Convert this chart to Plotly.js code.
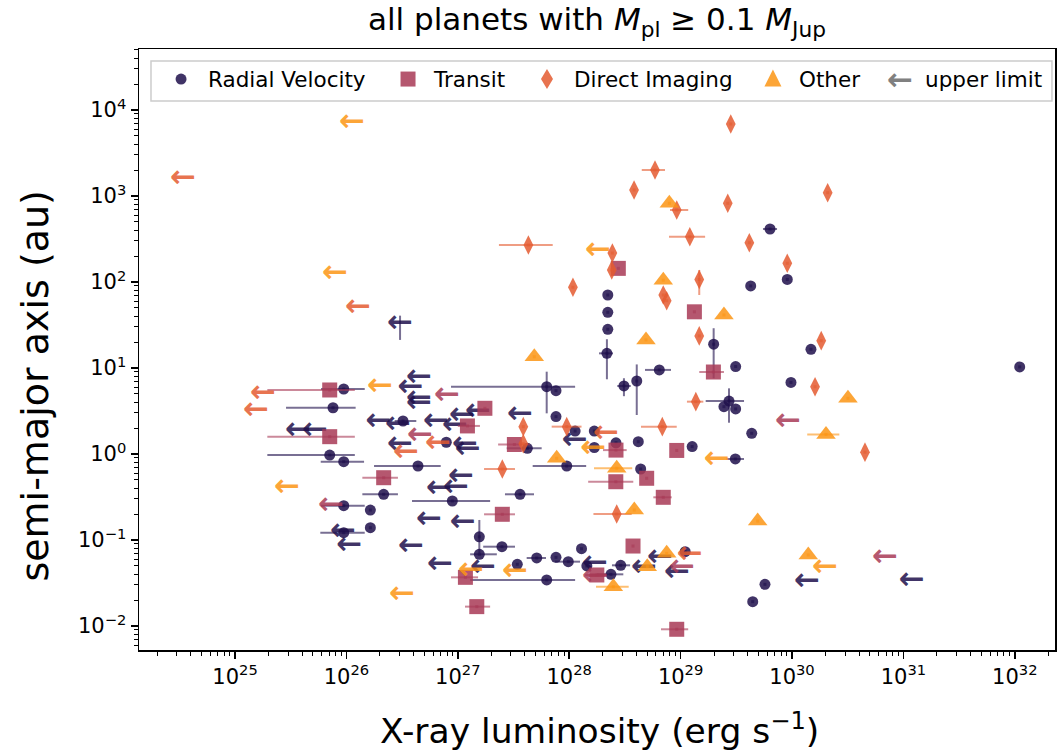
<!DOCTYPE html>
<html>
<head>
<meta charset="utf-8">
<script src="https://cdn.plot.ly/plotly-3.0.1.min.js"></script>
<style>
  html, body { margin: 0; padding: 0; background: #ffffff; }
  #chart { width: 1057px; height: 752px; }
</style>
</head>
<body>
<div id="chart"></div>
<script>
// ---- Radial Velocity detections: X-ray luminosity (erg/s), semi-major axis (au), optional error bounds ----
const rvLx = [6.35e29, 4.26e29, 9.07e29, 1.48e30, 1.107e32, 9.79e29, 2.22e28, 2.22e28, 2.22e28, 2.18e28,
              1.98e29, 6.44e28, 3.12e29, 6.28e27, 7.61e27, 4.04e28, 3.10e28, 2.72e29, 2.45e29, 3.12e29,
              9.46e25, 7.58e25, 3.22e26, 7.88e26, 7.08e25, 9.46e25, 4.39e26, 2.16e26, 8.93e26, 9.46e25,
              1.64e26, 1.64e26, 9.46e25, 1.56e27, 1.56e27, 2.49e27, 3.62e27, 4.21e27, 9.50e27, 1.68e28,
              1.13e28, 7.61e27, 2.63e28, 4.17e28, 1.27e29, 1.68e28, 4.35e29, 4.38e28, 3.10e29, 1.29e28,
              1.10e29, 5.11e27, 7.61e27, 9.81e27, 3.42e27, 1.44e28, 2.90e28, 2.37e28, 6.28e27, 5.72e29, 4.44e29];
const rvA  = [413, 90, 107, 16.5, 10.3, 6.8, 70.6, 44.4, 28.2, 14.8,
              18.9, 9.5, 10.4, 6.06, 5.45, 7.06, 6.18, 4.13, 3.55, 3.34,
              5.7, 3.45, 2.42, 1.37, 0.973, 0.814, 0.725, 0.340, 0.284, 0.2506,
              0.223, 0.139, 0.1216, 0.109, 0.0682, 0.0836, 0.340, 1.165, 0.725, 1.85,
              1.85, 2.72, 1.35, 1.39, 1.22, 1.19, 1.74, 0.669, 0.875, 0.0792,
              0.0731, 0.0618, 0.0629, 0.056, 0.0522, 0.0499, 0.0508, 0.0399, 0.0343, 0.0305, 0.0192];
const rvLxLo = [5.49e29, null, null, null, null, null, null, null, null, 1.85e28,
                null, 4.79e28, null, 8.69e26, null, null, 2.70e28, 1.68e29, null, null,
                5.92e25, 2.87e25, 2.71e26, null, 1.95e25, 5.88e25, 1.77e26, 1.39e26, 3.88e26, 5.92e25,
                null, null, 5.83e25, null, 1.29e27, 1.69e27, 2.65e27, 2.75e27, 4.70e27, null,
                null, null, null, null, null, null, null, null, 2.59e29, null,
                null, 4.15e27, null, 7.46e27, null, null, 2.42e28, 1.77e28, 1.29e27, null, null];
const rvLxHi = [7.34e29, null, null, null, null, null, null, null, null, 2.47e28,
                null, 8.20e28, null, 1.13e28, null, null, 3.57e28, 3.71e29, null, null,
                1.46e26, 1.21e26, 4.24e26, null, 1.19e26, 1.44e26, 7.02e26, 2.90e26, 1.95e27, 1.46e26,
                null, null, 1.46e26, null, 2.24e27, 3.26e27, 4.83e27, 5.66e27, 1.42e28, null,
                null, null, null, null, null, null, null, null, 3.71e29, null,
                null, 6.19e27, null, 1.25e28, null, null, 3.52e28, 3.06e28, 1.13e28, null, null];
const rvALo = [null, null, null, null, null, null, null, null, null, 7.39,
               7.59, null, null, 2.97, null, 2.84, 4.7, 2.31, null, null,
               null, null, null, null, null, null, null, null, null, null,
               null, null, null, 0.0706, null, null, null, null, null, null];
const rvAHi = [null, null, null, null, null, null, null, null, null, 21.6,
               29, null, null, 9.06, null, 11.0, 7.6, 5.8, null, null,
               null, null, null, null, null, null, null, null, null, null,
               null, null, null, 0.171, null, null, null, null, null, null];

// ---- Transit detections ----
const trLx = [2.76e28, 1.33e29, 1.97e29, 7.08e25, 7.08e25, 1.22e27, 1.75e27, 3.22e27, 2.63e28, 9.23e28,
              2.16e26, 2.62e28, 4.96e28, 6.99e28, 2.51e27, 3.74e28, 1.77e28, 1.17e27, 1.48e27, 9.23e28];
const trA  = [144, 45, 8.98, 5.55, 1.59, 2.12, 3.4, 1.29, 1.11, 1.10,
              0.530, 0.476, 0.522, 0.3136, 0.199, 0.0851, 0.0392, 0.0368, 0.0168, 0.00916];
const trLxLo = [null, null, 1.47e29, 1.95e25, 1.95e25, 1.00e27, null, 2.30e27, 2.01e28, null,
                1.39e26, 1.48e28, null, 5.69e28, 1.72e27, null, 1.39e28, 8.69e26, 1.16e27, 6.67e28];
const trLxHi = [null, null, 2.45e29, 1.19e26, 1.19e26, 1.58e27, null, 4.45e27, 3.28e28, null,
                2.90e26, 3.76e28, null, 8.32e28, 3.26e27, null, 2.18e28, 1.52e27, 1.95e27, 1.17e29];

// ---- Direct Imaging detections ----
const diLx = [2.82e29, 5.89e28, 3.82e28, 9.23e28, 2.65e29, 1.21e29, 4.14e29, 2.09e30, 4.30e27, 2.44e28,
              2.41e28, 1.08e28, 6.99e28, 7.50e28, 1.47e29, 1.47e29, 9.07e29, 1.83e30, 1.61e30, 4.52e30,
              1.37e29, 3.87e27, 9.50e27, 6.85e28, 3.87e27, 2.51e27, 2.67e28];
const diA  = [6870, 2005, 1175, 687, 822, 336, 286, 1092, 269, 217,
              138, 86.8, 70.6, 60.6, 107, 23.6, 165, 20.8, 6.06, 1.05,
              4.06, 2.08, 2.08, 2.08, 1.32, 0.669, 0.2006];
const diLxLo = [null, 4.48e28, null, 8.03e28, null, 7.87e28, null, null, 2.34e27, null,
                null, null, null, null, null, null, null, null, null, null,
                1.14e29, null, 6.96e27, 4.41e28, null, 1.72e27, 1.65e28];
const diLxHi = [null, 7.24e28, null, 1.17e29, null, 1.66e29, null, null, 7.11e27, null,
                null, null, null, null, null, null, null, null, null, null,
                1.60e29, null, 1.29e28, 9.23e28, null, 3.26e27, 3.64e28];
const diALo = [null, null, null, null, null, null, null, null, null, null,
               null, null, null, null, 70.6];
const diAHi = [null, null, null, null, null, null, null, null, null, null,
               null, null, null, null, 138];

// ---- Other detection methods ----
const otLx = [7.92e28, 6.99e28, 2.45e29, 4.89e28, 4.86e27, 3.18e30, 2.02e30, 7.72e27, 2.67e28, 3.84e28,
              4.92e29, 7.50e28, 5.02e28, 2.49e28, 1.40e30];
const otA  = [822, 105, 41.3, 21.2, 13.5, 4.44, 1.69, 0.891, 0.682, 0.223,
              0.166, 0.070, 0.049, 0.0286, 0.067];
const otLxLo = [null, null, null, null, null, null, 1.37e30, null, 1.67e28, null,
                null, null, null, 1.74e28, null];
const otLxHi = [null, null, null, null, null, null, 2.66e30, null, 3.68e28, null,
                null, null, null, 3.42e28, null];

// ---- X-ray upper limits (drawn as left arrows), per detection method ----
const ulRvLx = [3.03e26, 4.48e26, 3.76e26, 4.48e26, 4.48e26, 1.94e26, 2.90e26, 6.37e26, 9.44e26, 1.09e27,
                1.52e27, 3.68e25, 5.23e25, 3.03e26, 1.16e27, 1.23e27, 3.62e27, 1.12e28, 1.07e27, 6.78e26,
                9.63e26, 5.51e26, 1.11e27, 9.32e25, 1.06e26, 3.80e26, 6.92e26, 1.68e27, 1.70e28, 6.53e28,
                4.69e28, 9.28e28, 1.36e30, 1.19e31];
const ulRvA  = [32.5, 7.65, 5.81, 4.36, 3.81, 2.31, 2.17, 2.31, 2.12, 2.72,
                3.02, 1.85, 1.85, 1.27, 1.27, 1.11, 2.79, 1.42, 0.530, 0.389,
                0.399, 0.171, 0.156, 0.1216, 0.0851, 0.0813, 0.0512, 0.0472, 0.0522, 0.0606,
                0.0464, 0.041, 0.0325, 0.0334];
const ulRvALo = [21.2];
const ulRvAHi = [40.6];

const ulTrLx = [8.00e26, 7.27e25, 4.58e26, 9.21e29, 1.70e28, 1.03e29, 6.83e30];
const ulTrA  = [4.73, 0.244, 1.59, 2.31, 0.0368, 0.0464, 0.0612];

const ulDiLx = [3.41e24, 1.27e26, 1.78e25, 1.54e25, 3.43e26, 6.64e26, 2.14e28, 1.21e29];
const ulDiA  = [1577, 49.9, 4.94, 3.16, 1.02, 1.31, 1.69, 0.0664];

const ulOtLx = [1.12e26, 7.90e25, 2.00e26, 1.81e28, 2.93e25, 3.16e26, 1.31e27, 1.64e28, 3.26e27, 2.11e29, 1.98e30];
const ulOtA  = [7060, 124, 5.9, 225, 0.399, 0.0229, 0.0436, 1.13, 0.0421, 0.836, 0.0469];

// ---- axis ticks and legend labels ----
const xTickExp = [25, 26, 27, 28, 29, 30, 31, 32];
const yTickExp = [-2, -1, 0, 1, 2, 3, 4];
const legendLabels = ['Radial Velocity', 'Transit', 'Direct Imaging', 'Other', 'upper limit'];

// ---- styling ----
const COL = {
  rv: [30, 15, 75],
  tr: [168, 58, 86],
  di: [228, 91, 48],
  ot: [252, 149, 20],
  ul: [128, 128, 128]
};
const FONT = 'DejaVu Sans, Liberation Sans, sans-serif';
const ARROW_SIZE = 31;
const rgba = (c, a) => `rgba(${c[0]},${c[1]},${c[2]},${a})`;

function errorSpec(vals, lo, hi, col) {
  const plus = vals.map((v, i) => (hi && hi[i] != null) ? hi[i] - v : 0);
  const minus = vals.map((v, i) => (lo && lo[i] != null) ? v - lo[i] : 0);
  return {
    type: 'data', symmetric: false, array: plus, arrayminus: minus,
    color: rgba(col, 0.6), thickness: 2, width: 0,
    visible: plus.some(p => p > 0) || minus.some(m => m > 0)
  };
}

function pointTraces(x, y, xlo, xhi, ylo, yhi, col, symbol, size) {
  return [
    {
      type: 'scatter', mode: 'markers', x: x, y: y,
      marker: { symbol: symbol, size: size, color: rgba(col, 1), opacity: 0.85, line: { width: 0 } },
      error_x: errorSpec(x, xlo, xhi, col),
      error_y: errorSpec(y, ylo, yhi, col),
      hoverinfo: 'skip', showlegend: false
    },
    {
      type: 'scatter', mode: 'markers', x: x, y: y,
      marker: { symbol: 'square', size: 3, color: rgba(col, 0.6), line: { width: 0 } },
      hoverinfo: 'skip', showlegend: false
    }
  ];
}

function arrowTrace(x, y, ylo, yhi, col) {
  return {
    type: 'scatter', mode: 'text', x: x, y: y,
    text: x.map(() => '\u2190'),
    textposition: 'middle center',
    textfont: { family: FONT, size: ARROW_SIZE, weight: 'bold', color: rgba(col, 0.85) },
    error_y: errorSpec(y, ylo, yhi, col),
    hoverinfo: 'skip', showlegend: false
  };
}

const data = [].concat(
  pointTraces(rvLx, rvA, rvLxLo, rvLxHi, rvALo, rvAHi, COL.rv, 'circle', 11),
  [arrowTrace(ulRvLx, ulRvA, ulRvALo, ulRvAHi, COL.rv)],
  pointTraces(trLx, trA, trLxLo, trLxHi, null, null, COL.tr, 'square', 15),
  [arrowTrace(ulTrLx, ulTrA, null, null, COL.tr)],
  pointTraces(diLx, diA, diLxLo, diLxHi, diALo, diAHi, COL.di, 'diamond-tall', 14),
  [arrowTrace(ulDiLx, ulDiA, null, null, COL.di)],
  pointTraces(otLx, otA, otLxLo, otLxHi, null, null, COL.ot, 'triangle-up', 17),
  [arrowTrace(ulOtLx, ulOtA, null, null, COL.ot)]
);

// minor ticks at 2..9 x 10^n
function minorVals(lo, hi) {
  const v = [];
  for (let e = lo; e <= hi; e++) for (let k = 2; k <= 9; k++) v.push(k * Math.pow(10, e));
  return v;
}
const expLabel = e => '10<sup>' + (e < 0 ? '\u2212' + (-e) : e) + '</sup>';

const axisCommon = {
  type: 'log', showline: true, mirror: true, linecolor: 'black', linewidth: 1.5,
  ticks: 'outside', ticklen: 7, tickwidth: 1.5, tickcolor: 'black',
  showgrid: false, zeroline: false, tickmode: 'array',
  tickfont: { family: FONT, size: 21, color: 'black' }
};

// legend glyph geometry (paper coordinates of the plot area)
const legY = 0.950;
const legSymX = [0.0459, 0.2937, 0.4454, 0.6921, 0.8308];
const legTextX = [0.0731, 0.3188, 0.4727, 0.7183, 0.8559];

const shapes = [
  { type: 'rect', xref: 'paper', yref: 'paper', x0: 0.0131, x1: 0.9967, y0: 0.9135, y1: 0.980,
    line: { color: '#cccccc', width: 1.5 }, fillcolor: 'rgba(255,255,255,0.8)', layer: 'above' },
  { type: 'circle', xref: 'paper', yref: 'paper', xsizemode: 'pixel', ysizemode: 'pixel',
    xanchor: legSymX[0], yanchor: legY, x0: -5.5, x1: 5.5, y0: -5.5, y1: 5.5,
    fillcolor: rgba(COL.rv, 0.85), line: { width: 0 }, layer: 'above' },
  { type: 'rect', xref: 'paper', yref: 'paper', xsizemode: 'pixel', ysizemode: 'pixel',
    xanchor: legSymX[1], yanchor: legY, x0: -7.5, x1: 7.5, y0: -7.5, y1: 7.5,
    fillcolor: rgba(COL.tr, 0.85), line: { width: 0 }, layer: 'above' },
  { type: 'path', xref: 'paper', yref: 'paper', xsizemode: 'pixel', ysizemode: 'pixel',
    xanchor: legSymX[2], yanchor: legY, path: 'M0,-10 L6,0 L0,10 L-6,0 Z',
    fillcolor: rgba(COL.di, 0.85), line: { width: 0 }, layer: 'above' },
  { type: 'path', xref: 'paper', yref: 'paper', xsizemode: 'pixel', ysizemode: 'pixel',
    xanchor: legSymX[3], yanchor: legY, path: 'M-8.5,-7.5 L8.5,-7.5 L0,9.5 Z',
    fillcolor: rgba(COL.ot, 0.85), line: { width: 0 }, layer: 'above' }
];

const annotations = [
  { xref: 'paper', yref: 'paper', x: 0.5, y: 1.046, xanchor: 'center', yanchor: 'middle', showarrow: false,
    text: 'all planets with <i>M</i><sub>pl</sub> \u2265 0.1 <i>M</i><sub>Jup</sub>',
    font: { family: FONT, size: 31, color: 'black' } },
  { xref: 'paper', yref: 'paper', x: 0.503, y: -0.132, xanchor: 'center', yanchor: 'middle', showarrow: false,
    text: 'X-ray luminosity (erg s<sup>\u22121</sup>)',
    font: { family: FONT, size: 34.5, color: 'black' } },
  { xref: 'paper', yref: 'paper', x: -0.1135, y: 0.44, xanchor: 'center', yanchor: 'middle', showarrow: false,
    textangle: -90, text: 'semi-major axis (au)',
    font: { family: FONT, size: 38, color: 'black' } },
  { xref: 'paper', yref: 'paper', x: legSymX[4], y: legY, xanchor: 'center', yanchor: 'middle', showarrow: false,
    text: '\u2190', font: { family: FONT, size: ARROW_SIZE, weight: 'bold', color: rgba(COL.ul, 1) } }
].concat(legendLabels.map((t, i) => ({
  xref: 'paper', yref: 'paper', x: legTextX[i], y: legY, xanchor: 'left', yanchor: 'middle',
  showarrow: false, text: t, font: { family: FONT, size: 21.5, color: 'black' }
})));

const layout = {
  width: 1057, height: 752,
  margin: { l: 139, r: 2, t: 49, b: 102, pad: 0 },
  paper_bgcolor: 'white', plot_bgcolor: 'white',
  font: { family: FONT, color: 'black' },
  showlegend: false,
  xaxis: Object.assign({}, axisCommon, {
    range: [24.138, 32.361],
    tickvals: xTickExp.map(e => Math.pow(10, e)),
    ticktext: xTickExp.map(expLabel),
    minor: { ticks: 'outside', ticklen: 4, tickwidth: 1, tickcolor: 'black', tickmode: 'array',
             tickvals: minorVals(24, 32), showgrid: false }
  }),
  yaxis: Object.assign({}, axisCommon, {
    range: [-2.279, 4.709],
    tickvals: yTickExp.map(e => Math.pow(10, e)),
    ticktext: yTickExp.map(expLabel),
    minor: { ticks: 'outside', ticklen: 4, tickwidth: 1, tickcolor: 'black', tickmode: 'array',
             tickvals: minorVals(-3, 4), showgrid: false }
  }),
  shapes: shapes,
  annotations: annotations
};

Plotly.newPlot('chart', data, layout, { staticPlot: true, displayModeBar: false });
</script>
</body>
</html>
